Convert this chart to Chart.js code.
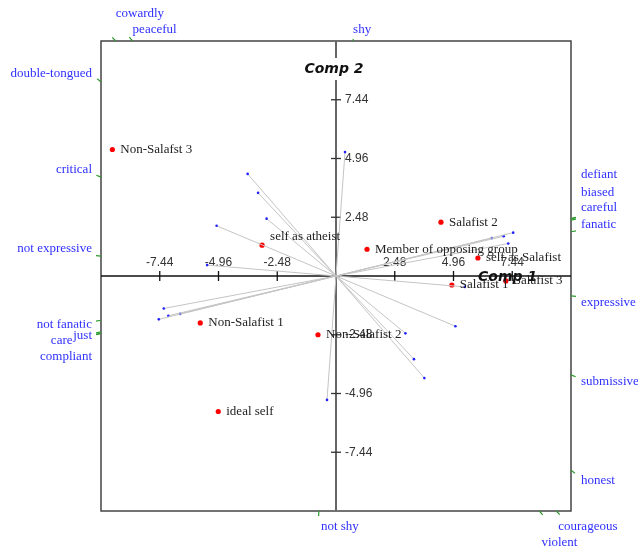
<!DOCTYPE html>
<html>
<head>
<meta charset="utf-8">
<script src="https://cdn.jsdelivr.net/npm/chart.js@4"></script>
<style>
  body { margin: 0; background: #fff; }
  #biplot { display: block; }
</style>
</head>
<body>
<canvas id="biplot" width="638" height="553"></canvas>
<script>
// ---- data ----
const elementNames = ['Non-Salafst 3', 'self as atheist', 'Salafist 2', 'Member of opposing group',
  'self as Salafist', 'Salafist 1', 'Salafist 3', 'Non-Salafist 1', 'Non-Salafist 2', 'ideal self'];
const elementX = [-9.44, -3.12, 4.43, 1.31, 5.99, 4.89, 7.17, -5.73, -0.76, -4.97];
const elementY = [5.34, 1.30, 2.27, 1.13, 0.76, -0.38, -0.21, -1.98, -2.48, -5.72];

// construct loadings, given for the first pole (second pole is the opposite direction)
const firstPoles = ['cowardly', 'peaceful', 'double-tongued', 'critical', 'not expressive',
  'shy', 'not fanatic', 'careless', 'just', 'compliant'];
const secondPoles = ['courageous', 'violent', 'honest', 'submissive', 'expressive',
  'not shy', 'fanatic', 'careful', 'biased', 'defiant'];
const constructX = [-3.29, -3.73, -2.93, -5.04, -5.44, 0.38, -7.27, -7.48, -7.08, -6.58];
const constructY = [3.51, 4.31, 2.42, 2.12, 0.46, 5.23, -1.37, -1.83, -1.68, -1.60];

const axisTicks = [-7.44, -4.96, -2.48, 2.48, 4.96, 7.44];
const axisLimit = 9.92;

// ---- label nudges (pixels) for crowded labels ----
const poleNudge = {
  'cowardly': [0, -16], 'violent': [0, 16], 'honest': [0, 3],
  'not fanatic': [0, 12], 'careless': [0, 15], 'just': [0, 12], 'compliant': [0, 31],
  'fanatic': [0, -14], 'careful': [0, -18], 'biased': [0, -35], 'defiant': [0, -51]
};
const elementNudge = { 'self as atheist': [0, -9] };

const constructSets = constructX.map((cx, i) => ({
  data: [{x: cx, y: constructY[i]}, {x: -cx, y: -constructY[i]}],
  showLine: true,
  borderColor: '#c4c4c4',
  borderWidth: 1,
  pointRadius: 1.3,
  pointBorderWidth: 0,
  pointBackgroundColor: '#2020ff'
}));

const elementSet = {
  data: elementX.map((x, i) => ({x: x, y: elementY[i]})),
  showLine: false,
  pointRadius: 2.6,
  pointBorderWidth: 0,
  pointBackgroundColor: '#ff0000'
};

function rayToBox(area, ox, oy, dx, dy) {
  let t = Infinity, side = null;
  if (dx > 0 && (area.right - ox) / dx < t) { t = (area.right - ox) / dx; side = 'right'; }
  if (dx < 0 && (area.left - ox) / dx < t) { t = (area.left - ox) / dx; side = 'left'; }
  if (dy > 0 && (area.bottom - oy) / dy < t) { t = (area.bottom - oy) / dy; side = 'bottom'; }
  if (dy < 0 && (area.top - oy) / dy < t) { t = (area.top - oy) / dy; side = 'top'; }
  return {x: ox + t * dx, y: oy + t * dy, side: side};
}

const biplotFrame = {
  id: 'biplotFrame',
  beforeDatasetsDraw(chart) {
    const {ctx, chartArea: a, scales: {x, y}} = chart;
    const ox = x.getPixelForValue(0), oy = y.getPixelForValue(0);
    ctx.save();
    // box
    ctx.strokeStyle = '#444';
    ctx.lineWidth = 1.5;
    ctx.strokeRect(a.left, a.top, a.right - a.left, a.bottom - a.top);
    // axes
    ctx.strokeStyle = '#666';
    ctx.lineWidth = 2;
    ctx.beginPath(); ctx.moveTo(ox, a.top); ctx.lineTo(ox, a.bottom); ctx.stroke();
    ctx.strokeStyle = '#111';
    ctx.lineWidth = 1.5;
    ctx.beginPath(); ctx.moveTo(a.left, oy); ctx.lineTo(a.right, oy); ctx.stroke();
    // ticks
    ctx.lineWidth = 1.3;
    ctx.font = '12px "Liberation Sans", Arial, sans-serif';
    ctx.fillStyle = '#333';
    axisTicks.forEach(v => {
      const px = x.getPixelForValue(v), py = y.getPixelForValue(v);
      ctx.strokeStyle = '#111';
      ctx.beginPath(); ctx.moveTo(px, oy - 5); ctx.lineTo(px, oy + 5); ctx.stroke();
      ctx.strokeStyle = '#333';
      ctx.beginPath(); ctx.moveTo(ox - 5, py); ctx.lineTo(ox + 5, py); ctx.stroke();
      ctx.textAlign = 'center'; ctx.textBaseline = 'middle';
      ctx.fillText(String(v), px, oy - 13);
      ctx.textAlign = 'left';
      ctx.fillText(String(v), ox + 9, py);
    });
    ctx.restore();
  },
  afterDatasetsDraw(chart) {
    const {ctx, chartArea: a, scales: {x, y}} = chart;
    const ox = x.getPixelForValue(0), oy = y.getPixelForValue(0);
    ctx.save();
    // axis titles
    ctx.font = 'italic bold 14px "DejaVu Sans", sans-serif';
    ctx.textBaseline = 'middle';
    ctx.fillStyle = '#111';
    ctx.textAlign = 'left';
    ctx.fillText('Comp 1', a.right - 93, oy + 1);
    const w2 = ctx.measureText('Comp 2').width;
    ctx.fillStyle = '#fff';
    ctx.fillRect(ox - 2 - w2 / 2 - 2, a.top + 17, w2 + 4, 22);
    ctx.fillStyle = '#111';
    ctx.textAlign = 'center';
    ctx.fillText('Comp 2', ox - 2, a.top + 28);

    // element labels
    ctx.font = '13px "Liberation Serif", "Times New Roman", serif';
    ctx.fillStyle = '#222';
    ctx.textAlign = 'left';
    elementNames.forEach((name, i) => {
      const n = elementNudge[name] || [0, 0];
      ctx.fillText(name, x.getPixelForValue(elementX[i]) + 8 + n[0],
        y.getPixelForValue(elementY[i]) + n[1]);
    });

    // pole ticks and labels
    const poles = [];
    constructX.forEach((cx, i) => {
      const dx = x.getPixelForValue(cx) - ox, dy = y.getPixelForValue(constructY[i]) - oy;
      poles.push({name: firstPoles[i], dx: dx, dy: dy});
      poles.push({name: secondPoles[i], dx: -dx, dy: -dy});
    });
    poles.sort((p, q) => (p.name === 'just') - (q.name === 'just'));
    ctx.font = '13px "Liberation Serif", "Times New Roman", serif';
    poles.forEach(p => {
      const hit = rayToBox(a, ox, oy, p.dx, p.dy);
      const len = Math.hypot(p.dx, p.dy);
      ctx.strokeStyle = '#2a9a2a';
      ctx.lineWidth = 1.2;
      ctx.beginPath();
      ctx.moveTo(hit.x, hit.y);
      ctx.lineTo(hit.x + 5 * p.dx / len, hit.y + 5 * p.dy / len);
      ctx.stroke();
      let lx, ly, align = 'left';
      if (hit.side === 'top') { lx = hit.x; ly = a.top - 11; }
      else if (hit.side === 'bottom') { lx = hit.x + 2; ly = a.bottom + 16; }
      else if (hit.side === 'left') { lx = a.left - 9; ly = hit.y - 8; align = 'right'; }
      else { lx = a.right + 10; ly = hit.y + 7; }
      const n = poleNudge[p.name] || [0, 0];
      lx += n[0]; ly += n[1];
      const w = ctx.measureText(p.name).width;
      ctx.fillStyle = '#fff';
      ctx.fillRect(align === 'right' ? lx - w - 1 : lx - 1, ly - 8, w + 2, 17);
      ctx.fillStyle = '#3030ff';
      ctx.textAlign = align;
      ctx.fillText(p.name, lx, ly);
    });
    ctx.restore();
  }
};

new Chart(document.getElementById('biplot'), {
  type: 'scatter',
  data: { datasets: constructSets.concat([elementSet]) },
  options: {
    responsive: false,
    animation: false,
    layout: { padding: { left: 101, top: 41, right: 67, bottom: 42 } },
    scales: {
      x: { type: 'linear', min: -axisLimit, max: axisLimit, display: false },
      y: { type: 'linear', min: -axisLimit, max: axisLimit, display: false }
    },
    plugins: { legend: { display: false }, tooltip: { enabled: false } }
  },
  plugins: [biplotFrame]
});
</script>
</body>
</html>
